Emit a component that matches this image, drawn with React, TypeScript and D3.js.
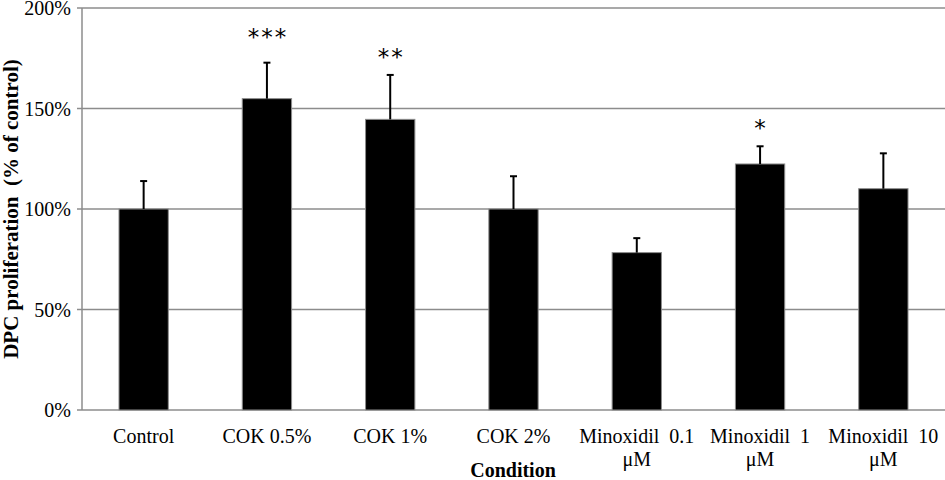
import React from "react";
import * as d3 from "d3";

const categories = [
  "Control",
  "COK 0.5%",
  "COK 1%",
  "COK 2%",
  "Minoxidil 0.1 μM",
  "Minoxidil 1 μM",
  "Minoxidil 10 μM",
];
const means = [1.0, 1.549, 1.446, 1.0, 0.783, 1.224, 1.101];
const errorsUp = [0.139, 0.179, 0.221, 0.163, 0.072, 0.088, 0.176];
const significance = ["", "***", "**", "", "", "*", ""];
const significanceAt = [0, 1.878, 1.776, 0, 0, 1.423, 0];
const yTicks = [0, 0.5, 1.0, 1.5, 2.0];

const W = 945;
const H = 480;
const FONT = "'Liberation Serif', 'Times New Roman', Times, serif";

export default function App() {
  const x = d3
    .scaleBand<string>()
    .domain(categories)
    .range([82, 945])
    .paddingInner(0.6)
    .paddingOuter(0.3);
  const y = d3.scaleLinear().domain([0, 2]).range([410, 8]);
  const fmt = d3.format(".0%");
  const bw = x.bandwidth();

  const wrap = (s: string) => {
    const words = s.split(" ");
    if (words.length <= 2) return [s];
    return [words.slice(0, -1).join(" "), words[words.length - 1]];
  };

  return (
    <div style={{ position: "absolute", left: 0, top: 0 }}>
      <svg width={W} height={H} style={{ display: "block", background: "#fff" }} fontFamily={FONT}>
        {/* gridlines */}
        {yTicks.map((t) => (
          <line key={"g" + t} x1={82} x2={W} y1={y(t)} y2={y(t)} stroke="#8c8c8c" strokeWidth={1.5} />
        ))}
        {/* y axis */}
        <line x1={82} x2={82} y1={y(2)} y2={y(0)} stroke="#8c8c8c" strokeWidth={1.5} />
        {yTicks.map((t) => (
          <g key={"t" + t}>
            <line x1={77} x2={82} y1={y(t)} y2={y(t)} stroke="#8c8c8c" strokeWidth={1.5} />
            <text x={71} y={y(t)} dy="0.35em" textAnchor="end" fontSize={20} fill="#000">
              {fmt(t)}
            </text>
          </g>
        ))}
        {/* bars */}
        {categories.map((c, i) => (
          <rect
            key={"b" + c}
            x={x(c)!}
            y={y(means[i])}
            width={bw}
            height={y(0) - y(means[i])}
            fill="#000"
            stroke="#8c8c8c"
            strokeWidth={1}
          />
        ))}
        {/* error bars */}
        {categories.map((c, i) => {
          const cx = x(c)! + bw / 2;
          const top = y(means[i] + errorsUp[i]);
          return (
            <g key={"e" + c} stroke="#000" strokeWidth={2}>
              <line x1={cx} x2={cx} y1={y(means[i])} y2={top} />
              <line x1={cx - 3.5} x2={cx + 3.5} y1={top} y2={top} />
            </g>
          );
        })}
        {/* significance */}
        {categories.map((c, i) =>
          significance[i] ? (
            <text
              key={"s" + c}
              x={x(c)! + bw / 2 + 1}
              y={y(significanceAt[i]) + 12}
              textAnchor="middle"
              fontSize={23}
              letterSpacing={2}
              fontFamily="'DejaVu Sans', sans-serif"
              fill="#000"
            >
              {significance[i]}
            </text>
          ) : null
        )}
        {/* x labels */}
        {categories.map((c) => {
          const lines = wrap(c);
          return (
            <text
              key={"x" + c}
              x={x(c)! + bw / 2}
              y={443}
              textAnchor="middle"
              fontSize={20}
              fill="#000"
              wordSpacing={lines.length > 1 ? 5 : 0}
            >
              {lines.map((l, k) => (
                <tspan key={k} x={x(c)! + bw / 2} dy={k === 0 ? 0 : 23}>
                  {l}
                </tspan>
              ))}
            </text>
          );
        })}
        {/* axis titles */}
        <text x={513} y={477} textAnchor="middle" fontSize={20} fontWeight="bold" fill="#000">
          Condition
        </text>
        <text
          transform={`translate(18, ${y(1)}) rotate(-90)`}
          textAnchor="middle"
          fontSize={21}
          fontWeight="bold"
          fill="#000"
          style={{ whiteSpace: "pre" }}
        >
          {"DPC proliferation  (% of control)"}
        </text>
      </svg>
    </div>
  );
}
